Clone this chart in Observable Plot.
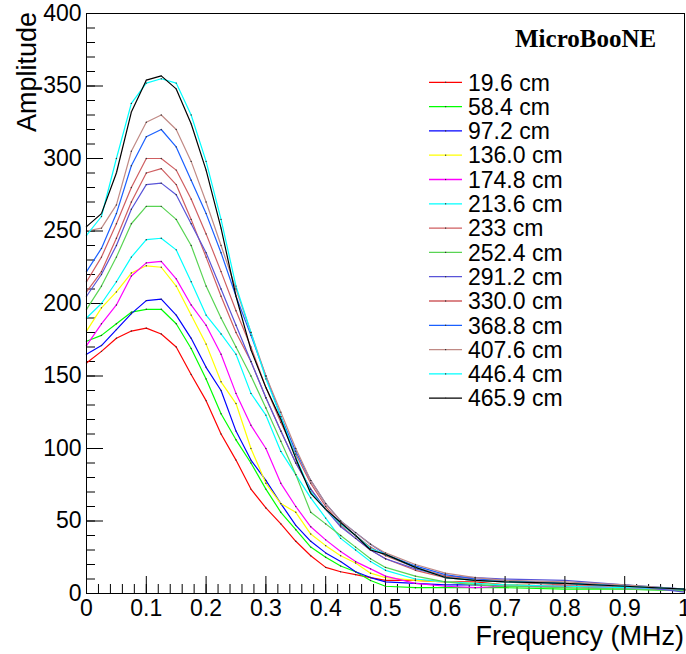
<!DOCTYPE html>
<html><head><meta charset="utf-8">
<script src="https://cdn.jsdelivr.net/npm/d3@7"></script>
<script src="https://cdn.jsdelivr.net/npm/@observablehq/plot@0.6"></script>
<style>
body{margin:0;background:#fff;}
#wrap{position:relative;width:686px;height:654px;font-family:"Liberation Sans",Arial,Helvetica,sans-serif;}
</style>
</head><body>
<div id="wrap"></div>
<script>
// Frequency grid (MHz) at which values were read
const freq = [0,0.025,0.05,0.075,0.1,0.125,0.15,0.175,0.2,0.225,0.25,0.275,0.3,0.325,0.35,0.375,0.4,0.425,0.45,0.475,0.5,0.55,0.6,0.65,0.7,0.8,0.9,1.0];
const seriesNames = ["19.6 cm","58.4 cm","97.2 cm","136.0 cm","174.8 cm","213.6 cm","233 cm","252.4 cm","291.2 cm","330.0 cm","368.8 cm","407.6 cm","446.4 cm","465.9 cm"];
const seriesColors = ["#ff0000","#00ff00","#0000ff","#ffff00","#ff00ff","#00ffff","#cf5e61","#59d454","#5954d8","#cf5e61","#1a60ff","#c08a85","#00ffff","#000000"];
const amp_19_6  = [159,167,176,181,183,179,170,151,133,110,92,72,59,48,36,26,18,15,13,11,9,9,8,8,6,5,4,2];
const amp_58_4  = [174,178,186,194,196,196,186,169,148,124,106,90,72,56,44,32,25,19,15,9,5,4,4,4,4,3,3,2];
const amp_97_2  = [165,171,182,193,202,203,192,176,156,140,112,92,78,62,47,36,28,22,15,11,8,7,6,6,5,5,4,2];
const amp_136_0 = [181,197,208,221,226,225,212,192,172,146,131,100,76,62,56,41,33,26,21,14,11,9,8,7,6,5,4,2];
const amp_174_8 = [171,186,199,219,228,229,217,199,185,165,138,116,100,76,60,46,37,29,22,17,12,7,5,4,5,5,4,2];
const amp_213_6 = [190,200,215,232,244,245,237,215,192,179,165,138,123,98,82,66,52,38,30,22,16,10,8,7,6,5,4,3];
const amp_233   = [208,222,245,270,290,293,282,258,232,205,180,160,135,112,90,72,58,47,38,30,24,16,11,9,8,6,5,3];
const amp_252_4 = [196,212,232,255,267,267,258,240,212,190,170,150,128,105,82,56,48,40,32,24,18,12,8,6,5,4,3,2];
const amp_291_2 = [205,220,240,265,282,283,275,255,235,210,185,160,135,112,90,72,58,46,38,30,24,17,12,11,10,9,6,1];
const amp_330_0 = [215,232,255,280,300,300,292,272,248,222,195,170,142,118,96,76,60,48,40,32,26,18,12,10,9,7,5,3];
const amp_368_8 = [222,238,262,295,315,320,308,285,262,235,205,178,150,122,98,78,62,50,42,34,27,19,13,10,9,7,6,3];
const amp_407_6 = [250,252,268,305,325,330,320,298,270,240,210,180,150,125,100,78,62,50,42,34,28,20,14,11,9,8,6,3];
const amp_446_4 = [247,260,300,338,352,355,352,330,298,258,212,180,148,122,94,70,58,48,40,31,27,18,11,9,8,7,5,3];
const amp_465_9 = [253,262,290,332,354,357,348,324,292,252,205,168,142,120,93,69,58,49,40,30,27,18,11,9,8,7,5,3];
const seriesValues = [amp_19_6,amp_58_4,amp_97_2,amp_136_0,amp_174_8,amp_213_6,amp_233,amp_252_4,amp_291_2,amp_330_0,amp_368_8,amp_407_6,amp_446_4,amp_465_9];
const xMajor = [0,0.1,0.2,0.3,0.4,0.5,0.6,0.7,0.8,0.9,1];
const yMajor = [0,50,100,150,200,250,300,350,400];
const xMinor = d3.range(0,1.0001,0.02);
const yMinor = d3.range(0,400.001,10);

const rows = [];
seriesNames.forEach((s,i)=>seriesValues[i].forEach((a,j)=>rows.push({s, f: freq[j], a})));

const W = 686, H = 654, mL = 86, mR = 2, mT = 13, mB = 61;
const pw = W - mL - mR, ph = H - mT - mB;
const sans = "'Liberation Sans', Arial, Helvetica, sans-serif";

const chart = Plot.plot({
  width: W, height: H,
  marginLeft: mL, marginRight: mR, marginTop: mT, marginBottom: mB,
  x: {domain: [0,1], label: null},
  y: {domain: [0,400], label: null},
  color: {domain: seriesNames, range: seriesColors},
  style: {fontFamily: sans, fontSize: "23px", color: "#000", background: "#fff"},
  marks: [
    Plot.tickY(yMinor, {y: d=>d, insetRight: pw-9, stroke: "#000", strokeWidth: 1}),
    Plot.tickY(yMajor, {y: d=>d, insetRight: pw-17, stroke: "#000", strokeWidth: 1}),
    Plot.tickX(xMinor, {x: d=>d, insetTop: ph-9, stroke: "#000", strokeWidth: 1}),
    Plot.tickX(xMajor, {x: d=>d, insetTop: ph-17, stroke: "#000", strokeWidth: 1}),
    Plot.axisY(yMajor, {tickSize: 0, tickPadding: 5, fontSize: 23, label: null}),
    Plot.axisX(xMajor, {tickSize: 0, tickPadding: 6, fontSize: 23, tickFormat: d3.format("~g"), label: null}),
    Plot.line(rows, {x: "f", y: "a", z: "s", stroke: "s", strokeWidth: 1.2, curve: "linear"}),
    Plot.dot(rows, {x: "f", y: "a", r: 0.7, fill: "#333", stroke: null}),
    Plot.frame({stroke: "#000", strokeWidth: 1})
  ]
});
document.getElementById("wrap").appendChild(chart);

const svg = d3.select(chart);
svg.append("text").attr("transform", "translate(36,12) rotate(-90)")
  .attr("text-anchor", "end").attr("font-size", 27).attr("fill", "#000")
  .attr("font-family", sans).text("Amplitude");
svg.append("text").attr("x", 684).attr("y", 645)
  .attr("text-anchor", "end").attr("font-size", 27).attr("fill", "#000")
  .attr("font-family", sans).text("Frequency (MHz)");
svg.append("text").attr("x", 515).attr("y", 47).attr("text-anchor", "start")
  .attr("font-size", 25).attr("font-weight", "bold").attr("fill", "#000")
  .attr("font-family", "'Liberation Serif', 'Times New Roman', serif").text("MicroBooNE");

// Legend
const lg = svg.append("g").attr("class", "legend");
seriesNames.forEach((s,i)=>{
  const cy = 82.3 + i*24.3;
  lg.append("line").attr("x1", 429).attr("x2", 462).attr("y1", cy).attr("y2", cy)
    .attr("stroke", seriesColors[i]).attr("stroke-width", 1.3);
  lg.append("rect").attr("x", 445).attr("y", cy-0.6).attr("width", 1.2).attr("height", 1.2).attr("fill", "#333");
  lg.append("text").attr("x", 468).attr("y", cy).attr("dy", "0.36em").attr("text-anchor", "start")
    .attr("font-size", 23).attr("fill", "#000").attr("font-family", sans).text(s);
});
</script>
</body></html>
